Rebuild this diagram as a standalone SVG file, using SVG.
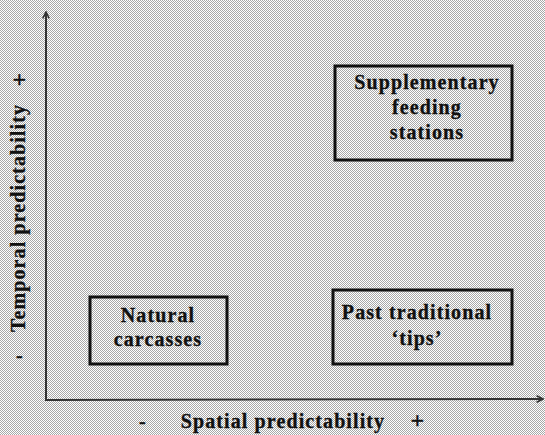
<svg xmlns="http://www.w3.org/2000/svg" width="545" height="435" viewBox="0 0 545 435">
<defs>
<pattern id="dither" width="2" height="2" patternUnits="userSpaceOnUse">
<rect width="2" height="2" fill="#ffffff"/>
<rect x="0" y="0" width="1" height="1" fill="#a8a8a8"/>
<rect x="1" y="1" width="1" height="1" fill="#a8a8a8"/>
</pattern>
<marker id="arr" viewBox="0 0 10 10" refX="9" refY="5" markerWidth="8" markerHeight="8" markerUnits="userSpaceOnUse" orient="auto">
<path d="M1,1 L9,5 L1,9" fill="none" stroke="#333" stroke-width="2"/>
</marker>
<style>
.box{fill:none;stroke:#111;stroke-width:3}
.t{font-family:"Liberation Serif","Times New Roman",serif;font-weight:bold;font-size:20px;letter-spacing:1.1px;fill:#111;stroke:#111;stroke-width:0.3;text-anchor:middle}
.axis{stroke:#333;stroke-width:2;fill:none}
</style>
</defs>
<rect width="545" height="435" fill="url(#dither)"/>
<g id="connectors">
<path class="axis" d="M46,400 L46,12" marker-end="url(#arr)"/>
<path class="axis" d="M45,400 L543,399" marker-end="url(#arr)"/>
</g>
<g id="supplementary">
<rect class="box" x="335" y="66" width="177" height="94"/>
<text class="t" x="427" y="89">Supplementary</text>
<text class="t" x="427" y="114">feeding</text>
<text class="t" x="427" y="139">stations</text>
</g>
<g id="natural">
<rect class="box" x="90" y="297" width="137" height="67"/>
<text class="t" x="158" y="322">Natural</text>
<text class="t" x="158" y="346">carcasses</text>
</g>
<g id="past">
<rect class="box" x="333" y="290" width="179" height="74"/>
<text class="t" x="417" y="319">Past traditional</text>
<text class="t" x="417" y="345">‘tips’</text>
</g>
<g id="labels">
<text class="t" transform="translate(25,218) rotate(-90)">Temporal predictability</text>
<text class="t" x="20" y="87" style="font-size:24px">+</text>
<text class="t" x="20" y="362">-</text>
<text class="t" x="283" y="428">Spatial predictability</text>
<text class="t" x="143" y="428">-</text>
<text class="t" x="418" y="428" style="font-size:24px">+</text>
</g>
</svg>
